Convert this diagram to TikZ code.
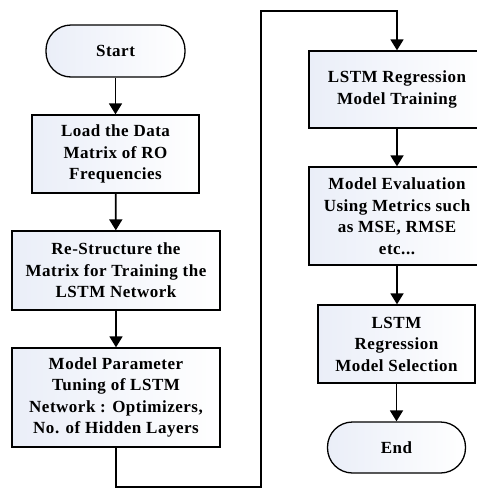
\documentclass[tikz,border=0pt]{standalone}
\usepackage{fontspec}
\setmainfont{Liberation Serif}[LetterSpace=3]
\usetikzlibrary{arrows.meta}
\definecolor{boxtint}{RGB}{234,238,248}
\tikzset{
  stepbox/.style={draw, line width=1.3pt, left color=boxtint, right color=white,
    align=center, inner sep=2pt, font=\fontsize{17}{21.5}\selectfont\bfseries},
  termbox/.style={stepbox, rounded corners=25pt},
  flow/.style={line width=1.8pt, -{Triangle[length=11pt,width=13pt]}}
}
\begin{document}
\begin{tikzpicture}[x=1pt,y=-1pt]
\useasboundingbox (0,0) rectangle (477,496);

\node[termbox, minimum width=139pt, minimum height=52pt](start) at (115.5,51) {Start};
\node[stepbox, minimum width=167pt, minimum height=78pt](load) at (115.5,154) {Load the Data\\Matrix of RO\\Frequencies};
\node[stepbox, minimum width=208pt, minimum height=79pt](restruct) at (116,270.5) {Re-Structure the\\Matrix for Training the\\LSTM Network};
\node[stepbox, minimum width=208pt, minimum height=99pt](tune) at (116,397.5) {Model Parameter\\Tuning of LSTM\\Network : Optimizers,\\No. of Hidden Layers};

\node[stepbox, minimum width=176pt, minimum height=77pt](train) at (397,89.5) {LSTM Regression\\Model Training};
\node[stepbox, minimum width=176pt, minimum height=98pt](eval) at (397,216) {Model Evaluation\\Using Metrics such\\as MSE, RMSE\\etc...};
\node[stepbox, minimum width=157pt, minimum height=78pt](select) at (396.5,344) {LSTM\\Regression\\Model Selection};
\node[termbox, minimum width=138pt, minimum height=51pt](end) at (396.5,447.5) {End};

\coordinate(low) at (261,487);
\coordinate(high) at (261,11);

\draw[flow] (start) -- (load);
\draw[flow] (load) -- (restruct);
\draw[flow] (restruct) -- (tune);
\draw[flow] (tune.south) |- (low) -- (high) -| (train.north);
\draw[flow] (train) -- (eval);
\draw[flow] (eval.south) -- (eval.south |- select.north);
\draw[flow] (select) -- (select.south |- end.north);

\end{tikzpicture}
\end{document}
